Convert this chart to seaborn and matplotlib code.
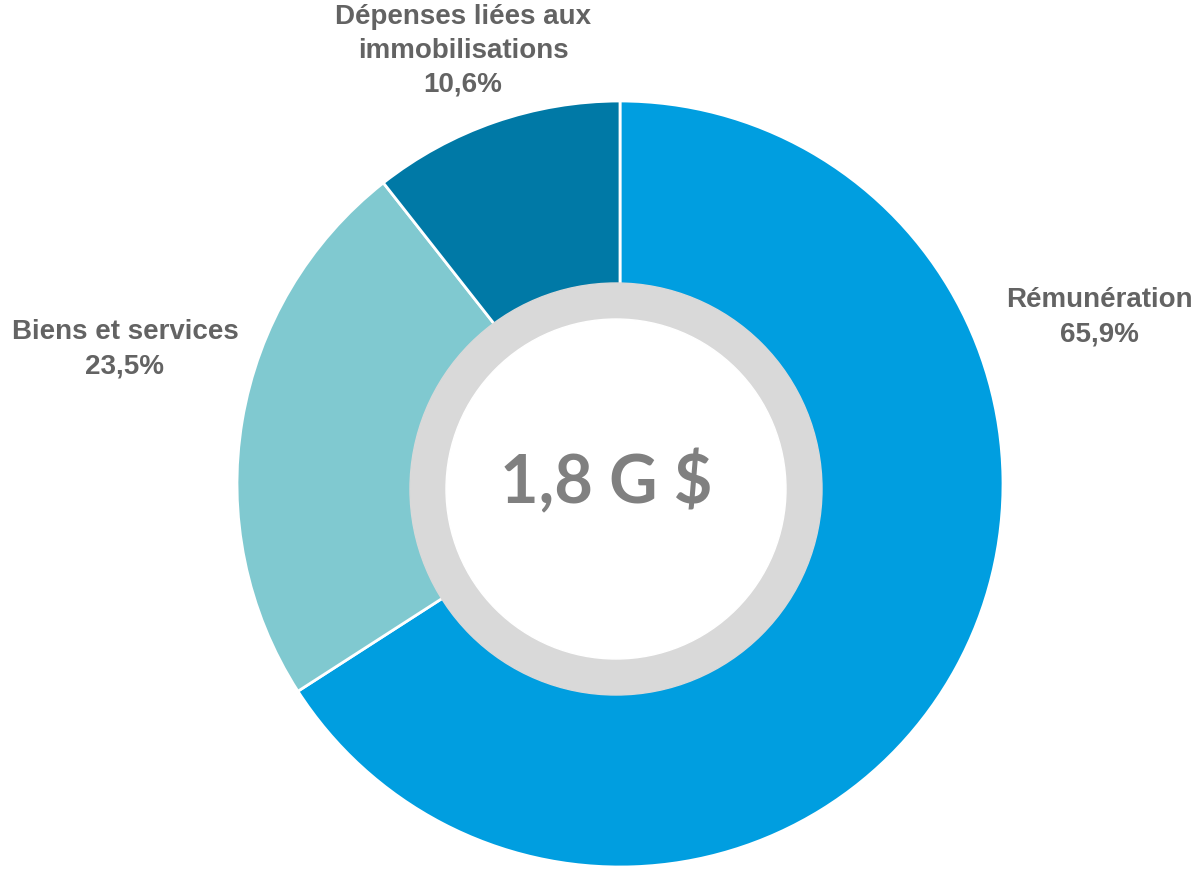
import matplotlib
matplotlib.use("Agg")
import matplotlib.pyplot as plt
import seaborn as sns
from matplotlib.patches import Circle

sns.set_style("white")
plt.rcParams['font.family'] = ['Liberation Sans', 'DejaVu Sans']

# data
categories = ["Rémunération", "Biens et services", "Dépenses liées aux\nimmobilisations"]
shares = [65.9, 23.5, 10.6]
share_labels = ["65,9%", "23,5%", "10,6%"]
colors = ["#009EE0", "#80C9D0", "#0079A6"]
total_label = "1,8 G $"

fig = plt.figure(figsize=(11.95, 8.69), dpi=100)
ax = fig.add_axes([0, 0, 1, 1])

cx, cy, r = 620, 385, 383
ax.pie(shares, colors=colors, startangle=90, counterclock=False,
       center=(cx, cy), radius=r, frame=True,
       wedgeprops=dict(edgecolor="white", linewidth=2))
ax.set_xlim(0, 1195)
ax.set_ylim(0, 869)
ax.set_aspect("equal")
ax.axis("off")

# grey ring + white hole
ax.add_patch(Circle((616, 380), 206, color="#D9D9D9", zorder=5))
ax.add_patch(Circle((616, 380), 170, color="white", zorder=6))
ax.text(606, 386, total_label, ha="center", va="center", fontsize=48,
        fontweight="bold", color="#808080", family=["Lato", "DejaVu Sans"], zorder=7)

# labels
label_pos = [(1099, 869 - 317), (125, 869 - 349), (463, 869 - 51)]
for name, pct, (x, y) in zip(categories, share_labels, label_pos):
    ax.text(x, y, f"{name}\n{pct}", ha="center", va="center", fontsize=20,
            fontweight="bold", color="#636363", linespacing=1.4)

fig.savefig("out.png", dpi=100)
